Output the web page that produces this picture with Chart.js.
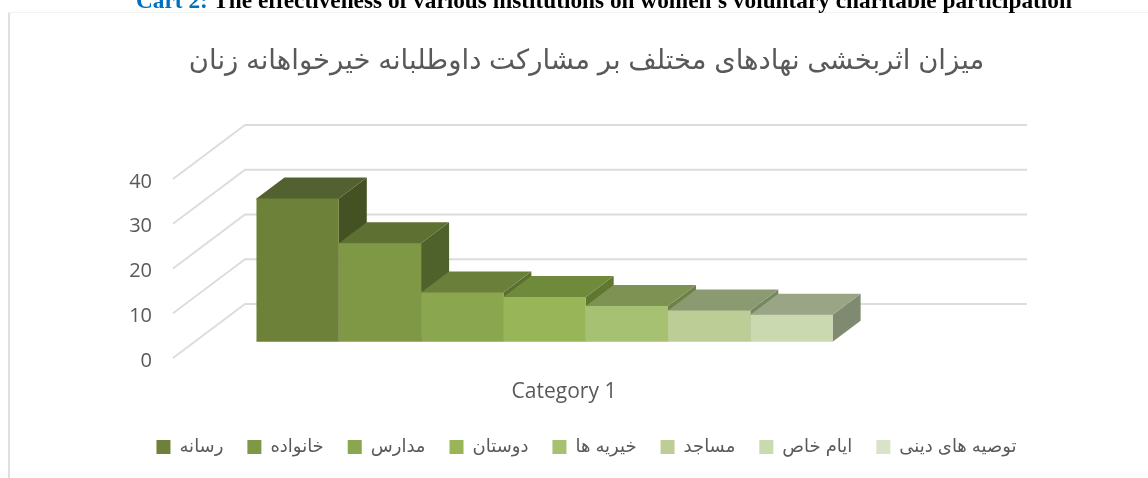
<!DOCTYPE html>
<html>
<head>
<meta charset="utf-8">
<script src="https://cdn.jsdelivr.net/npm/chart.js@4"></script>
<style>
  html, body { margin: 0; padding: 0; background: #fff; overflow: hidden; }
  #wrap { position: relative; width: 1148px; height: 478px; overflow: hidden; }
  #chart { display: block; }
  #caption { position: absolute; left: 136px; top: -13.5px; white-space: nowrap; font: bold 23.3px "Liberation Serif", serif; color: #000; }
  #caption span { color: #0070c0; }
  #frameLeft { position: absolute; left: 8px; top: 12px; width: 2px; height: 466px; background: #e0e0e0; }
  #frameTop { position: absolute; left: 8px; top: 12px; width: 1140px; height: 1px; background: #f2f2f2; }
</style>
</head>
<body>
<div id="wrap">
  <canvas id="chart" width="1148" height="478"></canvas>
  <div id="frameLeft"></div>
  <div id="frameTop"></div>
  <div id="caption"><span>Cart 2:</span> The effectiveness of various institutions on women's voluntary charitable participation</div>
</div>
<script>
const categories = ['Category 1'];
const seriesNames = ['رسانه', 'خانواده', 'مدارس', 'دوستان', 'خیریه ها', 'مساجد', 'ایام خاص', 'توصیه های دینی'];
const seriesValues = [32, 22, 11, 10, 8, 7, 6, null];
const frontColors = ['#6d8139', '#7e9846', '#8aa64f', '#98b558', '#a6c171', '#bccd96', '#cbd9b1', '#d9e3c9'];
const topColors = ['#536130', '#5f7033', '#6a7f3a', '#6f8a3a', '#7d9253', '#8b9a70', '#9aa586', '#a5ad95'];
const sideColors = ['#445223', '#4f622c', '#5a7030', '#5f772f', '#6b8146', '#758660', '#808a70', '#8a917d'];
const yTicks = [0, 10, 20, 30, 40];
const titleText = 'میزان اثربخشی نهادهای مختلف بر مشارکت داوطلبانه خیرخواهانه زنان';

const FONT = '"Open Sans", "DejaVu Sans", sans-serif';
const ARABIC_FONT = '"Liberation Sans", "DejaVu Sans", sans-serif';

// the fake 3d: walls go back by this much, bars sit a bit inside and have their own depth
const wall = { dx: 72, dy: 54 };
const barShift = { dx: 21.7, dy: 16.3 };
const barDepth = { dx: 28, dy: 21 };

function face(ctx, points, color) {
    ctx.fillStyle = color;
    ctx.beginPath();
    points.forEach((p, i) => i ? ctx.lineTo(p[0], p[1]) : ctx.moveTo(p[0], p[1]));
    ctx.closePath();
    ctx.fill();
}

const fake3d = {
    id: 'fake3d',
    beforeDatasetsDraw(chart) {
        const { ctx, chartArea, scales } = chart;
        ctx.save();
        ctx.strokeStyle = '#dcdcdc';
        ctx.lineWidth = 1.8;
        yTicks.forEach(t => {
            const y = scales.y.getPixelForValue(t);
            ctx.beginPath();
            ctx.moveTo(chartArea.left, y);
            ctx.lineTo(chartArea.left + wall.dx, y - wall.dy);
            ctx.lineTo(chartArea.right + wall.dx, y - wall.dy);
            ctx.stroke();
        });
        ctx.restore();

        // stays translated until afterDatasetsDraw so the library's bars land in the same place
        ctx.save();
        ctx.translate(barShift.dx, -barShift.dy);
        seriesValues.forEach((v, i) => {
            if (v === null) return;
            const bar = chart.getDatasetMeta(i).data[0];
            const l = bar.x - bar.width / 2, r = bar.x + bar.width / 2;
            const d = barDepth;
            face(ctx, [[r, bar.y], [r + d.dx, bar.y - d.dy], [r + d.dx, bar.base - d.dy], [r, bar.base]], sideColors[i]);
            // runs 1px under the front face so no seam shows on the shared edge
            face(ctx, [[l, bar.y + 1], [l, bar.y], [l + d.dx, bar.y - d.dy], [r + d.dx, bar.y - d.dy], [r, bar.y], [r, bar.y + 1]], topColors[i]);
        });
    },
    afterDatasetsDraw(chart) {
        chart.ctx.restore();
    }
};

new Chart(document.getElementById('chart'), {
    type: 'bar',
    data: {
        labels: categories,
        datasets: seriesNames.map((name, i) => ({
            label: name,
            data: [seriesValues[i]],
            backgroundColor: frontColors[i],
            categoryPercentage: 0.842,
            barPercentage: 1,
            clip: false
        }))
    },
    options: {
        responsive: false,
        animation: false,
        layout: { padding: { left: 25, right: 0, top: 0, bottom: 12 } },
        plugins: {
            title: {
                display: true,
                text: titleText,
                color: '#595959',
                font: { family: ARABIC_FONT, size: 27.5, weight: 'normal' },
                padding: { top: 45, bottom: 101 }
            },
            legend: {
                position: 'bottom',
                labels: {
                    boxWidth: 14,
                    boxHeight: 14,
                    padding: 24,
                    color: '#595959',
                    font: { family: ARABIC_FONT, size: 18 }
                }
            },
            tooltip: { enabled: false }
        },
        scales: {
            x: {
                afterFit(s) { s.height = 56; },
                grid: { display: false, drawTicks: false },
                border: { display: false },
                ticks: { color: '#595959', padding: 21, font: { family: FONT, size: 21 } }
            },
            y: {
                min: 0,
                max: 40,
                afterFit(s) { s.width = 148; },
                afterBuildTicks(s) { s.ticks = yTicks.map(v => ({ value: v })); },
                grid: { display: false, drawTicks: false },
                border: { display: false },
                ticks: { color: '#595959', padding: 21, labelOffset: 3, font: { family: FONT, size: 20 } }
            },
            // empty axis only to hold the room right of the plot
            yRight: {
                position: 'right',
                afterFit(s) { s.width = 193; },
                grid: { display: false, drawTicks: false },
                border: { display: false },
                ticks: { display: false }
            }
        }
    },
    plugins: [fake3d]
});
</script>
</body>
</html>
